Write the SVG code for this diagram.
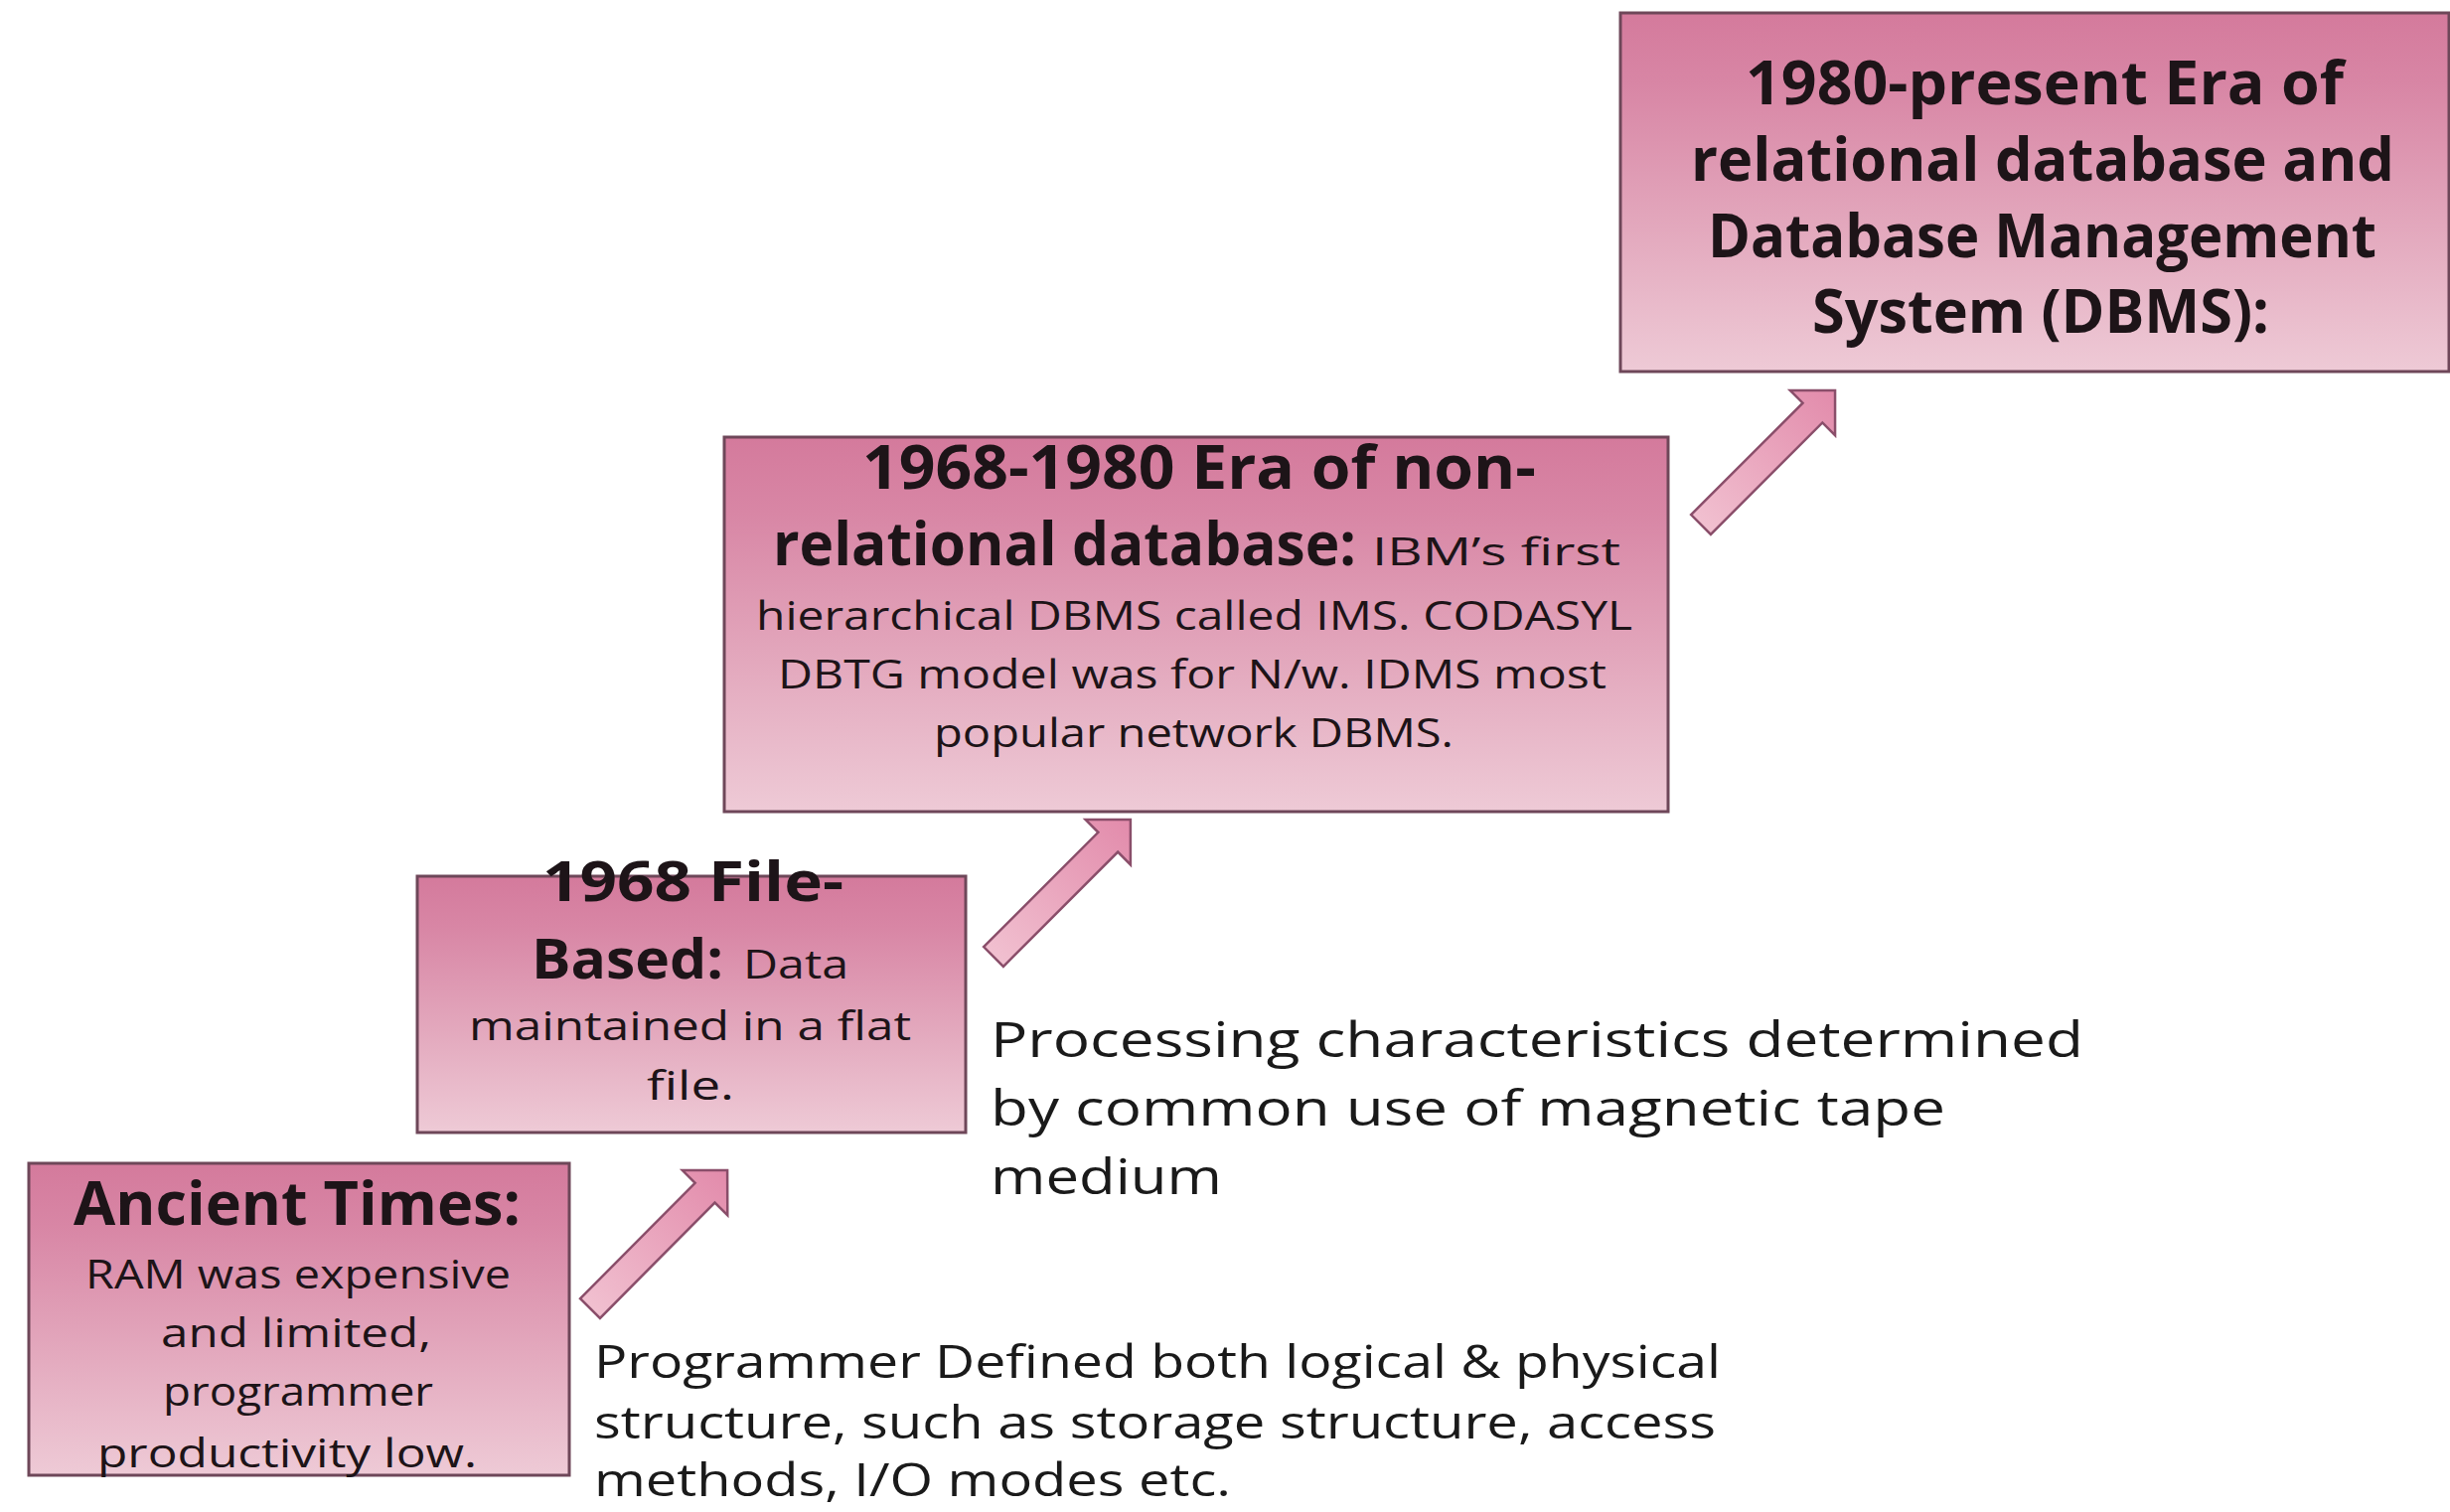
<svg xmlns="http://www.w3.org/2000/svg" width="2466" height="1522" viewBox="0 0 2466 1522">
<defs>
<linearGradient id="boxGrad" x1="0" y1="0" x2="0" y2="1">
<stop offset="0" stop-color="#d47a9c"/>
<stop offset="0.2" stop-color="#d886a5"/>
<stop offset="0.6" stop-color="#e3a8bd"/>
<stop offset="1" stop-color="#eecad6"/>
</linearGradient>
<linearGradient id="arrowGrad" x1="0" y1="0" x2="1" y2="0">
<stop offset="0" stop-color="#f1c0d0"/>
<stop offset="1" stop-color="#e28bab"/>
</linearGradient>
<style>
.box{fill:url(#boxGrad);stroke:#6e4759;stroke-width:3}
.arrow{fill:url(#arrowGrad);stroke:#8a4e6a;stroke-width:2.5;stroke-linejoin:miter}
text{font-family:"Open Sans","Noto Sans","DejaVu Sans",sans-serif;fill:#1d1418}
.h{font-size:60px;font-weight:700}
.h2{font-size:55px;font-weight:700}
.b{font-size:41px}
.s{font-size:38px}
.f1{font-size:50px;fill:#1a1a1a}
.f2{font-size:46px;fill:#1a1a1a}
</style>
</defs>
<rect width="2466" height="1522" fill="#ffffff"/>

<g id="connectors">
<path class="arrow" transform="translate(594,1317) rotate(-45.2)" d="M0,-14 L164,-14 L164,-32 L196,0 L164,32 L164,14 L0,14 Z"/>
<path class="arrow" transform="translate(1000,963) rotate(-45)" d="M0,-14 L163,-14 L163,-32 L195,0 L163,32 L163,14 L0,14 Z"/>
<path class="arrow" transform="translate(1712,528) rotate(-45)" d="M0,-14 L159,-14 L159,-32 L191,0 L159,32 L159,14 L0,14 Z"/>
</g>

<g id="node-ancient">
<rect class="box" x="29" y="1171" width="544" height="314"/>
<text class="h" x="74" y="1233" textLength="450" lengthAdjust="spacingAndGlyphs">Ancient Times:</text>
<text class="b" x="86" y="1297" textLength="428" lengthAdjust="spacingAndGlyphs">RAM was expensive</text>
<text class="b" x="162" y="1356" textLength="272" lengthAdjust="spacingAndGlyphs">and limited,</text>
<text class="b" x="164" y="1415" textLength="272" lengthAdjust="spacingAndGlyphs">programmer</text>
<text class="b" x="98" y="1477" textLength="382" lengthAdjust="spacingAndGlyphs">productivity low.</text>
</g>

<g id="node-filebased">
<rect class="box" x="420" y="882" width="552" height="258"/>
<text class="h2" x="546" y="907" textLength="303" lengthAdjust="spacingAndGlyphs">1968 File-</text>
<text x="535" y="985"><tspan class="h2" x="535" textLength="193" lengthAdjust="spacingAndGlyphs">Based:</tspan><tspan class="b" x="748" textLength="106" lengthAdjust="spacingAndGlyphs">Data</tspan></text>
<text class="b" x="472" y="1047" textLength="445" lengthAdjust="spacingAndGlyphs">maintained in a flat</text>
<text class="b" x="651" y="1107" textLength="88" lengthAdjust="spacingAndGlyphs">file.</text>
</g>

<g id="node-nonrelational">
<rect class="box" x="729" y="440" width="950" height="377"/>
<text class="h" x="868" y="492" textLength="678" lengthAdjust="spacingAndGlyphs">1968-1980 Era of non-</text>
<text x="778" y="569"><tspan class="h" x="778" textLength="587" lengthAdjust="spacingAndGlyphs">relational database:</tspan><tspan class="s" x="1381" textLength="250" lengthAdjust="spacingAndGlyphs">IBM’s first</tspan></text>
<text class="b" x="761" y="634" textLength="882" lengthAdjust="spacingAndGlyphs">hierarchical DBMS called IMS. CODASYL</text>
<text class="b" x="783" y="693" textLength="834" lengthAdjust="spacingAndGlyphs">DBTG model was for N/w. IDMS most</text>
<text class="b" x="940" y="752" textLength="523" lengthAdjust="spacingAndGlyphs">popular network DBMS.</text>
</g>

<g id="node-relational">
<rect class="box" x="1631" y="13" width="834" height="361"/>
<text class="h" x="1757" y="105" textLength="602" lengthAdjust="spacingAndGlyphs">1980-present Era of</text>
<text class="h" x="1702" y="182" textLength="708" lengthAdjust="spacingAndGlyphs">relational database and</text>
<text class="h" x="1719" y="259" textLength="673" lengthAdjust="spacingAndGlyphs">Database Management</text>
<text class="h" x="1824" y="335" textLength="460" lengthAdjust="spacingAndGlyphs">System (DBMS):</text>
</g>

<g id="note-processing">
<text class="f1" x="997" y="1064" textLength="1100" lengthAdjust="spacingAndGlyphs">Processing characteristics determined</text>
<text class="f1" x="997" y="1133" textLength="961" lengthAdjust="spacingAndGlyphs">by common use of magnetic tape</text>
<text class="f1" x="997" y="1202" textLength="233" lengthAdjust="spacingAndGlyphs">medium</text>
</g>

<g id="note-programmer">
<text class="f2" x="598" y="1387" textLength="1134" lengthAdjust="spacingAndGlyphs">Programmer Defined both logical &amp; physical</text>
<text class="f2" x="598" y="1448" textLength="1129" lengthAdjust="spacingAndGlyphs">structure, such as storage structure, access</text>
<text class="f2" x="598" y="1506" textLength="641" lengthAdjust="spacingAndGlyphs">methods, I/O modes etc.</text>
</g>
</svg>
